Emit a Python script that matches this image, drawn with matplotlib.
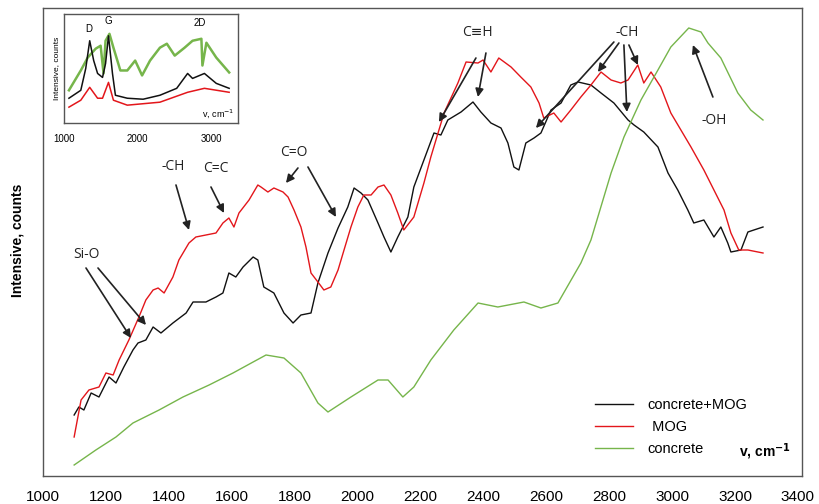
import matplotlib
matplotlib.use("Agg")
import matplotlib.pyplot as plt

# ---------------- main spectra (wavenumber cm^-1, intensity a.u.) ----------------
black_x = [1099, 1114, 1130, 1153, 1178, 1210, 1232, 1257, 1286, 1302, 1327, 1350, 1375, 1413,
           1455, 1477, 1518, 1550, 1572, 1591, 1613, 1636, 1668, 1683, 1702, 1734, 1766, 1795,
           1820, 1852, 1874, 1906, 1938, 1969, 1989, 2011, 2033, 2065, 2084, 2106, 2128, 2160,
           2179, 2211, 2243, 2265, 2287, 2329, 2367, 2392, 2424, 2456, 2478, 2497, 2513, 2535,
           2561, 2583, 2615, 2647, 2678, 2701, 2742, 2774, 2815, 2860, 2879, 2910, 2955, 2987,
           3018, 3050, 3069, 3101, 3133, 3155, 3177, 3187, 3219, 3241, 3260, 3289]
black_y = [61, 69, 66, 83, 79, 99, 93, 109, 126, 133, 136, 149, 143, 153,
           163, 174, 174, 179, 183, 203, 199, 209, 219, 216, 189, 183, 163, 153,
           161, 163, 193, 223, 248, 269, 288, 283, 276, 253, 239, 224, 239, 259,
           289, 316, 343, 341, 356, 364, 374, 364, 353, 348, 333, 309, 306, 333,
           338, 343, 366, 373, 391, 394, 391, 383, 373, 356, 351, 344, 329, 303,
           286, 266, 253, 256, 239, 249, 233, 224, 226, 244, 246, 249]

red_x = [1099, 1121, 1146, 1178, 1200, 1223, 1242, 1273, 1305, 1327, 1350, 1366, 1385, 1413,
         1432, 1464, 1486, 1518, 1550, 1572, 1591, 1607, 1623, 1655, 1683, 1693, 1715, 1734,
         1763, 1779, 1798, 1820, 1836, 1852, 1874, 1893, 1915, 1938, 1957, 1979, 2001, 2020,
         2043, 2065, 2084, 2106, 2128, 2147, 2179, 2211, 2233, 2275, 2319, 2345, 2383, 2399,
         2424, 2449, 2488, 2519, 2551, 2577, 2592, 2624, 2647, 2678, 2710, 2742, 2774, 2806,
         2837, 2860, 2891, 2910, 2933, 2964, 2996, 3028, 3060, 3101, 3133, 3165, 3187, 3212,
         3241, 3289]
red_y = [39, 76, 86, 89, 103, 101, 116, 136, 159, 176, 186, 188, 183, 199,
         216, 233, 239, 241, 243, 253, 258, 249, 263, 276, 291, 289, 284, 288,
         284, 279, 266, 249, 229, 203, 194, 186, 189, 206, 226, 249, 269, 281,
         281, 289, 291, 281, 263, 246, 259, 293, 319, 363, 393, 414, 413, 416,
         404, 418, 409, 399, 389, 373, 358, 363, 354, 366, 379, 391, 404, 396,
         393, 396, 411, 393, 404, 389, 363, 346, 329, 306, 286, 266, 243, 226,
         226, 223]

green_x = [1099, 1168, 1232, 1286, 1369, 1445, 1528, 1604, 1668, 1709, 1766, 1820, 1874, 1906,
           1979, 2065, 2097, 2144, 2179, 2233, 2306, 2383, 2446, 2529, 2583, 2637, 2710, 2742,
           2806, 2847, 2901, 2955, 2996, 3053, 3092, 3114, 3155, 3209, 3250, 3289]
green_y = [11, 26, 39, 53, 66, 79, 91, 103, 114, 121, 118, 103, 73, 64,
           79, 96, 96, 79, 89, 116, 146, 173, 169, 174, 168, 173, 213, 236,
           303, 339, 376, 406, 429, 448, 444, 433, 418, 383, 366, 356]

series_labels = ["concrete+MOG", " MOG", "concrete"]

# ---------------- inset spectra ----------------
in_green_x = [1067, 1228, 1322, 1430, 1497, 1537, 1564, 1617, 1671, 1765, 1859, 1966, 2060,
              2168, 2302, 2396, 2503, 2637, 2745, 2865, 2879, 2933, 3067, 3242]
in_green_y = [33, 53, 66, 75, 78, 50, 83, 90, 76, 53, 53, 63, 48, 63, 76, 80, 68, 76, 83, 85,
              58, 81, 66, 51]

in_black_x = [1067, 1228, 1295, 1349, 1403, 1456, 1523, 1564, 1604, 1658, 1698, 1859, 2074,
              2302, 2530, 2678, 2745, 2906, 3067, 3242]
in_black_y = [25, 33, 55, 83, 63, 50, 46, 60, 88, 50, 28, 25, 24, 28, 35, 50, 45, 50, 40, 35]

in_red_x = [1067, 1228, 1349, 1456, 1523, 1604, 1671, 1859, 2302, 2678, 2906, 3242]
in_red_y = [16, 23, 36, 25, 25, 41, 23, 18, 21, 31, 35, 31]

main_ticks = [1000, 1200, 1400, 1600, 1800, 2000, 2200, 2400, 2600, 2800, 3000, 3200, 3400]
inset_ticks = [1000, 2000, 3000]

C_BLACK = "#111111"
C_RED = "#e3161b"
C_GREEN = "#76b54b"

fig = plt.figure(figsize=(8.19, 5.04), dpi=100)
ax = fig.add_axes([43/819, 28/504, 759/819, 468/504])

ax.plot(black_x, black_y, color=C_BLACK, lw=1.0, label=series_labels[0])
ax.plot(red_x, red_y, color=C_RED, lw=1.0, label=series_labels[1])
ax.plot(green_x, green_y, color=C_GREEN, lw=1.0, label=series_labels[2])

ax.set_xlim(1000, 3413)
ax.set_ylim(0, 468)
ax.set_xticks(main_ticks)
ax.set_xticklabels([str(t) for t in main_ticks], family="Liberation Sans", fontsize=11)
ax.tick_params(axis="x", length=0, pad=10)
ax.set_yticks([])
for s in ax.spines.values():
    s.set_color("#555555")
    s.set_linewidth(1.0)

fig.text(18/819, 1 - 240/504, "Intensive, counts", rotation=90, ha="center", va="center",
         fontsize=10, fontweight="bold", family="Liberation Sans")
ax.text(0.985, 0.03, r"v, cm$^{\mathbf{-1}}$", transform=ax.transAxes, ha="right", va="bottom",
        fontsize=10, fontweight="bold", family="Liberation Sans")

leg = ax.legend(loc="upper left", bbox_to_anchor=(0.71, 0.195), frameon=False,
                prop={"family": "Liberation Sans", "size": 10.5}, handlelength=2.6,
                labelspacing=0.55, handletextpad=1.0)

# ---------------- annotations ----------------
def px(x, y):
    return (1000 + (x - 42) / 0.3146, 476 - y)

afont = dict(family=["Open Sans", "DejaVu Sans"], fontsize=10, color="#222222")
aprops = dict(arrowstyle="-|>", color="#222222", lw=1.2, mutation_scale=12, shrinkA=0, shrinkB=0)

def label(text, x, y):
    ax.text(*px(x, y), text, ha="center", va="center", **afont)

def arrow(x0, y0, x1, y1):
    ax.annotate("", xy=px(x1, y1), xytext=px(x0, y0), arrowprops=aprops)

label("Si-O", 85, 255)
arrow(85, 268, 130, 338)
arrow(97, 268, 145, 325)

label("-CH", 172, 167)
arrow(175, 185, 188, 230)

label("C=C", 215, 168)
arrow(210, 187, 223, 213)

label("C=O", 293, 153)
arrow(297, 168, 285, 183)
arrow(307, 167, 335, 217)

label("C\u2261H", 477, 33)
arrow(485, 53, 477, 97)
arrow(475, 58, 438, 122)

label("-CH", 626, 33)
arrow(613, 42, 535, 128)
arrow(618, 43, 597, 72)
arrow(623, 45, 626, 112)
arrow(628, 45, 637, 65)

label("-OH", 713, 120)
arrow(712, 97, 692, 45)

# ---------------- inset ----------------
ins = fig.add_axes([64/819, 1 - 123/504, 174/819, 109/504])
ins.plot(in_green_x, in_green_y, color=C_GREEN, lw=1.8)
ins.plot(in_black_x, in_black_y, color=C_BLACK, lw=1.1)
ins.plot(in_red_x, in_red_y, color=C_RED, lw=1.1)
ins.set_xlim(1000, 3362)
ins.set_ylim(0, 110)
ins.set_xticks(inset_ticks)
ins.set_xticklabels([str(t) for t in inset_ticks], family="Liberation Sans", fontsize=7)
ins.tick_params(axis="x", length=0, pad=8)
ins.set_yticks([])
for s in ins.spines.values():
    s.set_color("#555555")
    s.set_linewidth(1.0)
ins.set_ylabel("Intensive, counts", fontsize=6, family="Liberation Sans", labelpad=3)
ins.text(0.98, 0.03, r"v, cm$^{-1}$", transform=ins.transAxes, ha="right", va="bottom",
         fontsize=6.5, family="Liberation Sans")
ins.text(1336, 90, "D", fontsize=7, family="Liberation Sans", ha="center", va="bottom")
ins.text(1604, 98, "G", fontsize=7, family="Liberation Sans", ha="center", va="bottom")
ins.text(2839, 96, "2D", fontsize=7, family="Liberation Sans", ha="center", va="bottom")

fig.savefig("out.png", dpi=100)
